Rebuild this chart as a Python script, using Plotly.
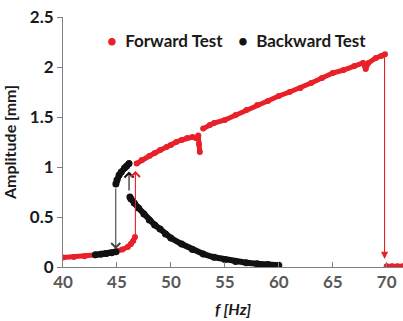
import plotly.graph_objects as go

RED = "#E8202A"
BLK = "#111111"

# Forward test (red)
fw_low_f = [40, 41, 42, 43, 44, 44.5, 45, 45.5, 46, 46.3, 46.5, 46.67]
fw_low_a = [0.094, 0.100, 0.108, 0.117, 0.130, 0.140, 0.155, 0.175, 0.200, 0.230, 0.260, 0.300]
fw_up_f = [46.83, 47.3, 48, 48.5, 49, 49.6, 50, 50.5, 51, 51.5, 52, 52.3, 52.54, 52.6, 52.68,
           None, 52.99, 53.6, 54, 55, 56, 57, 58, 59, 60, 61, 62, 63, 64, 65, 66, 67, 67.8,
           68.05, 68.3, 69, 69.5, 69.84]
fw_up_a = [1.035, 1.07, 1.11, 1.14, 1.17, 1.20, 1.22, 1.25, 1.27, 1.29, 1.30, 1.29, 1.315, 1.23, 1.15,
           None, 1.384, 1.42, 1.44, 1.47, 1.52, 1.57, 1.62, 1.66, 1.71, 1.75, 1.79, 1.84, 1.89, 1.94,
           1.97, 2.01, 2.04, 1.98, 2.04, 2.09, 2.11, 2.127]
fw_end_f = [70.0, 70.5, 71.0, 71.5]
fw_end_a = [0.007, 0.007, 0.007, 0.007]

# Backward test (black)
bw_low_f = [43.0, 43.5, 44.0, 44.5, 44.9]
bw_low_a = [0.122, 0.128, 0.135, 0.143, 0.152]
bw_up_f = [44.9, 45.0, 45.2, 45.4, 45.7, 45.9, 46.12]
bw_up_a = [0.83, 0.87, 0.92, 0.95, 0.99, 1.01, 1.035]
bw_dn_f = [46.2, 46.3, 46.6, 47, 47.5, 48, 48.5, 49, 49.5, 50, 51, 52, 53, 54, 55, 56, 57, 58, 59, 60]
bw_dn_a = [0.70, 0.68, 0.64, 0.59, 0.53, 0.47, 0.42, 0.38, 0.33, 0.29, 0.23, 0.175, 0.13, 0.097,
           0.075, 0.056, 0.043, 0.032, 0.024, 0.018]

x_ticks = [40, 45, 50, 55, 60, 65, 70]
y_ticks = [0, 0.5, 1, 1.5, 2, 2.5]

# arrows: (x, y_from, y_to, color, head)
arrows = [
    (44.89, 0.80, 0.18, "#444444", 4),
    (46.12, 0.75, 0.955, BLK, 4),
    (46.71, 0.31, 0.96, RED, 4),
    (69.80, 2.12, 0.08, RED, 2),
]

fig = go.Figure()

def seg(xs, ys, color, w):
    fig.add_trace(go.Scatter(x=xs, y=ys, mode="lines+markers",
                             line=dict(color=color, width=w),
                             marker=dict(color=color, size=w + 1),
                             showlegend=False, hoverinfo="skip"))

seg(fw_low_f, fw_low_a, RED, 5)
seg(fw_up_f, fw_up_a, RED, 5)
seg(fw_end_f, fw_end_a, RED, 5)
seg(bw_low_f, bw_low_a, BLK, 6)
seg(bw_up_f, bw_up_a, BLK, 6)
seg(bw_dn_f, bw_dn_a, BLK, 6)

for x, y0, y1, c, h in arrows:
    fig.add_annotation(x=x, y=y1, ax=x, ay=y0, xref="x", yref="y", axref="x", ayref="y",
                       showarrow=True, arrowhead=h, arrowsize=1.6 if h == 4 else 1.3,
                       arrowwidth=1.1, arrowcolor=c, standoff=0, text="")

FONT = "Lato"
LEG_Y = (266.7 - 40) / 250

fig.add_annotation(xref="paper", yref="paper", x=(105 - 63) / 340, y=LEG_Y,
                   xanchor="left", yanchor="middle", showarrow=False,
                   text="<span style='color:%s'>•</span>  Forward Test" % RED,
                   font=dict(family=FONT, size=17, color="#1a1a1a", weight="bold"))
fig.add_annotation(xref="paper", yref="paper", x=(236 - 63) / 340, y=LEG_Y,
                   xanchor="left", yanchor="middle", showarrow=False,
                   text="<span style='color:%s'>•</span>  Backward Test" % BLK,
                   font=dict(family=FONT, size=17, color="#1a1a1a", weight="bold"))

fig.update_layout(
    width=403, height=321,
    margin=dict(l=63, r=0, t=17, b=54),
    paper_bgcolor="white", plot_bgcolor="white",
    font=dict(family=FONT, size=15, color="#595959", weight="bold"),
    xaxis=dict(range=[40, 71.51], tickvals=x_ticks, ticks="inside", ticklen=5,
               tickcolor="#808080", showline=True, linecolor="#808080", linewidth=1,
               showgrid=False, zeroline=False,
               tickfont=dict(family=FONT, size=17, color="#595959", weight="bold"),
               title=dict(text="<i>f [Hz]</i>", standoff=12,
                          font=dict(family=FONT, size=16, color="#1a1a1a", weight="bold"))),
    yaxis=dict(range=[0, 2.5], tickvals=y_ticks, ticks="outside", ticklen=5,
               tickcolor="#808080", showline=True, linecolor="#808080", linewidth=1,
               showgrid=False, zeroline=False,
               tickfont=dict(family=FONT, size=17, color="#1a1a1a", weight="bold"),
               title=dict(text="Amplitude [mm]", standoff=10,
                          font=dict(family=FONT, size=16, color="#1a1a1a", weight="bold"))),
)

fig.write_html("out.html")
